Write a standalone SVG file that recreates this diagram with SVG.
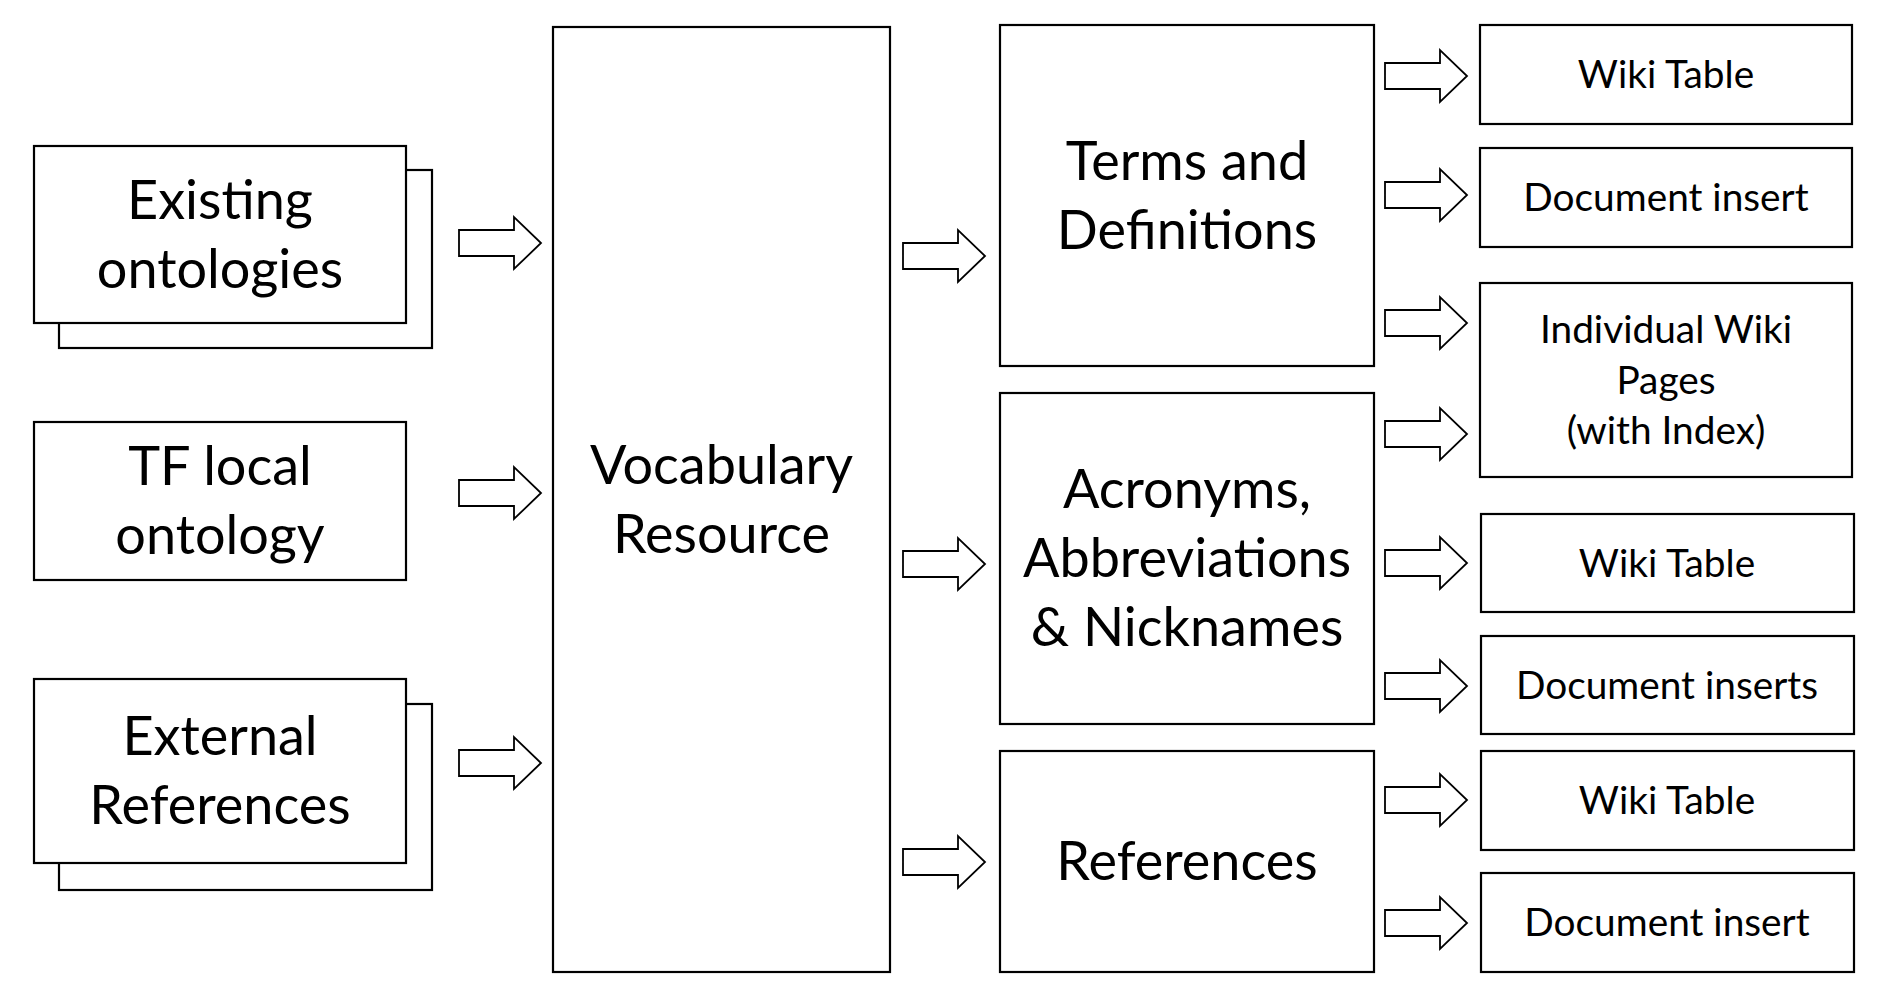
<svg xmlns="http://www.w3.org/2000/svg" width="1890" height="1005" viewBox="0 0 1890 1005">
<style>
  .box { fill: #ffffff; stroke: #000000; stroke-width: 2.2; }
  .arrow { fill: #ffffff; stroke: #000000; stroke-width: 1.8; stroke-linejoin: miter; }
  .big { font-family: Lato, "Liberation Sans", sans-serif; font-size: 54px; fill: #000000; text-anchor: middle; }
  .small { font-family: Lato, "Liberation Sans", sans-serif; font-size: 38.8px; fill: #000000; text-anchor: middle; }
</style>
<defs>
  <path id="arr" d="M0,-13 H55 V-26 L82,0 L55,26 V13 H0 Z"/>
</defs>
<rect x="0" y="0" width="1890" height="1005" fill="#ffffff"/>

<g id="existing-ontologies">
  <rect class="box" x="59" y="170" width="373" height="178"/>
  <rect class="box" x="34" y="146" width="372" height="177"/>
  <text class="big" x="220" y="218.5">Existing</text>
  <text class="big" x="220" y="287.5">ontologies</text>
</g>
<g id="tf-local-ontology">
  <rect class="box" x="34" y="422" width="372" height="158"/>
  <text class="big" x="220" y="485">TF local</text>
  <text class="big" x="220" y="554">ontology</text>
</g>
<g id="external-references">
  <rect class="box" x="59" y="704" width="373" height="186"/>
  <rect class="box" x="34" y="679" width="372" height="184"/>
  <text class="big" x="220" y="755">External</text>
  <text class="big" x="220" y="824">References</text>
</g>
<g id="vocabulary-resource">
  <rect class="box" x="553" y="27" width="337" height="945"/>
  <text class="big" x="721.5" y="484">Vocabulary</text>
  <text class="big" x="721.5" y="553">Resource</text>
</g>
<g id="terms-definitions">
  <rect class="box" x="1000" y="25" width="374" height="341"/>
  <text class="big" x="1187" y="180">Terms and</text>
  <text class="big" x="1187" y="249">Definitions</text>
</g>
<g id="acronyms">
  <rect class="box" x="1000" y="393" width="374" height="331"/>
  <text class="big" x="1187" y="508">Acronyms,</text>
  <text class="big" x="1187" y="577">Abbreviations</text>
  <text class="big" x="1187" y="646">&amp; Nicknames</text>
</g>
<g id="references">
  <rect class="box" x="1000" y="751" width="374" height="221"/>
  <text class="big" x="1187" y="880">References</text>
</g>
<g id="wiki-table-1">
  <rect class="box" x="1480" y="25" width="372" height="99"/>
  <text class="small" x="1666" y="88">Wiki Table</text>
</g>
<g id="document-insert-1">
  <rect class="box" x="1480" y="148" width="372" height="99"/>
  <text class="small" x="1666" y="211">Document insert</text>
</g>
<g id="individual-wiki-pages">
  <rect class="box" x="1480" y="283" width="372" height="194"/>
  <text class="small" x="1666" y="343">Individual Wiki</text>
  <text class="small" x="1666" y="393.6">Pages</text>
  <text class="small" x="1666" y="444.2">(with Index)</text>
</g>
<g id="wiki-table-2">
  <rect class="box" x="1481" y="514" width="373" height="98"/>
  <text class="small" x="1667" y="576.5">Wiki Table</text>
</g>
<g id="document-inserts-2">
  <rect class="box" x="1481" y="636" width="373" height="98"/>
  <text class="small" x="1667" y="698.5">Document inserts</text>
</g>
<g id="wiki-table-3">
  <rect class="box" x="1481" y="751" width="373" height="99"/>
  <text class="small" x="1667" y="814">Wiki Table</text>
</g>
<g id="document-insert-3">
  <rect class="box" x="1481" y="873" width="373" height="99"/>
  <text class="small" x="1667" y="936">Document insert</text>
</g>

<g id="connectors">
  <use href="#arr" class="arrow" transform="translate(459,243)"/>
  <use href="#arr" class="arrow" transform="translate(459,493)"/>
  <use href="#arr" class="arrow" transform="translate(459,763)"/>
  <use href="#arr" class="arrow" transform="translate(903,256)"/>
  <use href="#arr" class="arrow" transform="translate(903,564)"/>
  <use href="#arr" class="arrow" transform="translate(903,862)"/>
  <use href="#arr" class="arrow" transform="translate(1385,76)"/>
  <use href="#arr" class="arrow" transform="translate(1385,195)"/>
  <use href="#arr" class="arrow" transform="translate(1385,323)"/>
  <use href="#arr" class="arrow" transform="translate(1385,434)"/>
  <use href="#arr" class="arrow" transform="translate(1385,563)"/>
  <use href="#arr" class="arrow" transform="translate(1385,686)"/>
  <use href="#arr" class="arrow" transform="translate(1385,800)"/>
  <use href="#arr" class="arrow" transform="translate(1385,923)"/>
</g>
</svg>
